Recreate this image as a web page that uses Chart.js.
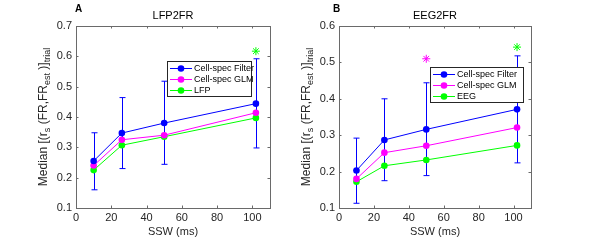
<!DOCTYPE html>
<html>
<head>
<meta charset="utf-8">
<script src="https://cdn.jsdelivr.net/npm/chart.js@4.4.0/dist/chart.umd.min.js"></script>
<style>
  body { margin: 0; background: #fff; }
  .panel { position: absolute; top: 0; width: 296px; height: 241px; }
</style>
</head>
<body>
<div class="panel" style="left:0"><canvas id="chartA"></canvas></div>
<div class="panel" style="left:296px"><canvas id="chartB"></canvas></div>
<script>
// SSW values (ms), shared by both panels
var ssw = [10, 26, 50, 102];
var xTicks = [0, 20, 40, 60, 80, 100];
var seriesNames = ["Cell-spec Filter", "Cell-spec GLM"];

// Panel A: LFP2FR
var filterA = [0.255, 0.347, 0.380, 0.444];
var filterLowA = [0.160, 0.230, 0.244, 0.298];
var filterHighA = [0.348, 0.464, 0.518, 0.592];
var glmA = [0.240, 0.325, 0.340, 0.414];
var lfpA = [0.225, 0.307, 0.335, 0.397];
var starsA = [{x: 102, y: 0.617, c: "#00ff00"}];

// Panel B: EEG2FR
var filterB = [0.203, 0.287, 0.316, 0.371];
var filterLowB = [0.113, 0.175, 0.189, 0.224];
var filterHighB = [0.292, 0.400, 0.444, 0.518];
var glmB = [0.180, 0.252, 0.271, 0.321];
var eegB = [0.172, 0.216, 0.232, 0.272];
var starsB = [{x: 50, y: 0.510, c: "#ff00ff"}, {x: 102, y: 0.542, c: "#00ff00"}];

var axisColor = "#262626";
var boxColor = "#6a6a6a";
var fontFam = "'Liberation Sans', Arial, sans-serif";

function pts(ys) {
	return ssw.map(function(x, i){ return {x: x, y: ys[i]}; });
}

function lineSet(label, ys, color) {
	return {
		label: label, data: pts(ys), showLine: true,
		borderColor: color, backgroundColor: color, borderWidth: 1,
		pointRadius: 3.3, pointHoverRadius: 3.3, pointBorderWidth: 0
	};
}

/** Draws error bars, the box with inward ticks, titles, y label and legend */
var decor = {
	id: "decor",
	beforeDatasetsDraw: function(chart, args, o) {
		var ctx = chart.ctx, xs = chart.scales.x, ys = chart.scales.y;
		ctx.save();
		ctx.strokeStyle = "#0000ff";
		ctx.lineWidth = 1;
		for (var i = 0; i < ssw.length; i++) {
			var px = Math.round(xs.getPixelForValue(ssw[i])) + 0.5;
			var y1 = ys.getPixelForValue(o.low[i]), y2 = ys.getPixelForValue(o.high[i]);
			ctx.beginPath();
			ctx.moveTo(px, y1); ctx.lineTo(px, y2);
			ctx.moveTo(px - 3, y1); ctx.lineTo(px + 3, y1);
			ctx.moveTo(px - 3, y2); ctx.lineTo(px + 3, y2);
			ctx.stroke();
		}
		ctx.restore();
	},
	afterDraw: function(chart, args, o) {
		var ctx = chart.ctx, a = chart.chartArea, xs = chart.scales.x, ys = chart.scales.y;
		ctx.save();
		// axes box
		ctx.strokeStyle = boxColor;
		ctx.lineWidth = 1;
		ctx.strokeRect(Math.round(a.left) + 0.5, Math.round(a.top) + 0.5,
			Math.round(a.right - a.left), Math.round(a.bottom - a.top));
		// inward ticks
		ctx.beginPath();
		xs.ticks.forEach(function(t){
			var px = Math.round(xs.getPixelForValue(t.value)) + 0.5;
			ctx.moveTo(px, a.bottom); ctx.lineTo(px, a.bottom - 2.5);
			ctx.moveTo(px, a.top); ctx.lineTo(px, a.top + 2.5);
		});
		ys.ticks.forEach(function(t){
			var py = Math.round(ys.getPixelForValue(t.value)) + 0.5;
			ctx.moveTo(a.left, py); ctx.lineTo(a.left + 2.5, py);
			ctx.moveTo(a.right, py); ctx.lineTo(a.right - 2.5, py);
		});
		ctx.stroke();

		// title and panel letter
		ctx.fillStyle = "#000";
		ctx.textAlign = "center";
		ctx.textBaseline = "middle";
		ctx.font = "11px " + fontFam;
		ctx.fillText(o.title, (a.left + a.right) / 2, 16);
		ctx.textAlign = "left";
		ctx.font = "bold 10px " + fontFam;
		ctx.fillText(o.letter, o.letterX, 9);

		// y label with subscripts
		ctx.save();
		ctx.translate(o.ylabelX, (a.top + a.bottom) / 2);
		ctx.rotate(-Math.PI / 2);
		ctx.fillStyle = axisColor;
		var parts = [["Median [(r", 0], ["s", 1], [" (FR,FR", 0], ["est", 1], [" )]", 0], ["trial", 1]];
		var big = "12px " + fontFam, small = "9px " + fontFam, w = 0;
		parts.forEach(function(p){ ctx.font = p[1] ? small : big; w += ctx.measureText(p[0]).width; });
		var cx = -w / 2;
		ctx.textAlign = "left";
		ctx.textBaseline = "alphabetic";
		parts.forEach(function(p){
			ctx.font = p[1] ? small : big;
			ctx.fillText(p[0], cx, p[1] ? 7 : 4);
			cx += ctx.measureText(p[0]).width;
		});
		ctx.restore();

		// legend
		var L = o.legend;
		ctx.fillStyle = "#fff";
		ctx.fillRect(L.x0, L.y0, L.x1 - L.x0, L.y1 - L.y0);
		ctx.strokeStyle = axisColor;
		ctx.strokeRect(L.x0 + 0.5, L.y0 + 0.5, L.x1 - L.x0, L.y1 - L.y0);
		ctx.font = "9px " + fontFam;
		ctx.textBaseline = "middle";
		chart.data.datasets.slice(0, 3).forEach(function(ds, i){
			var ry = L.y0 + 7 + i * 11;
			ctx.strokeStyle = ds.borderColor;
			ctx.beginPath();
			ctx.moveTo(L.x0 + 3, ry + 0.5); ctx.lineTo(L.x0 + 25, ry + 0.5);
			ctx.stroke();
			ctx.fillStyle = ds.borderColor;
			ctx.beginPath();
			ctx.arc(L.x0 + 14, ry + 0.5, 3.3, 0, Math.PI * 2);
			ctx.fill();
			ctx.fillStyle = "#000";
			ctx.fillText(ds.label, L.x0 + 27, ry + 1);
		});
		ctx.restore();
	}
};

function makeChart(id, sets, stars, yMax, axisW, padRight, opts) {
	var data = sets.slice();
	data.push({
		label: "stars", data: stars.map(function(s){ return {x: s.x, y: s.y}; }),
		showLine: false, pointStyle: "star", pointRadius: 4,
		borderColor: stars.map(function(s){ return s.c; }), borderWidth: 1,
		backgroundColor: "transparent"
	});
	return new Chart(document.getElementById(id), {
		type: "scatter",
		data: {datasets: data},
		options: {
			responsive: true, maintainAspectRatio: false, animation: false,
			layout: {padding: {left: 0, right: padRight, top: 26, bottom: 0}},
			plugins: {legend: {display: false}, tooltip: {enabled: false}, decor: opts},
			scales: {
				x: {
					type: "linear", min: 0, max: 110,
					grid: {display: false, drawTicks: false}, border: {display: false},
					ticks: {color: axisColor, font: {size: 11, family: fontFam}, padding: 3, maxRotation: 0, autoSkip: false},
					afterBuildTicks: function(s){ s.ticks = xTicks.map(function(v){ return {value: v}; }); },
					title: {display: true, text: "SSW (ms)", color: axisColor, font: {size: 11, family: fontFam}, padding: {top: 0, bottom: 2}},
					afterFit: function(s){ s.height = 33; }
				},
				y: {
					min: 0.1, max: yMax,
					grid: {display: false, drawTicks: false}, border: {display: false},
					ticks: {stepSize: 0.1, color: axisColor, font: {size: 11, family: fontFam}, padding: 4,
						callback: function(v){ return v.toFixed(1); }},
					afterFit: function(s){ s.width = axisW; }
				}
			}
		},
		plugins: [decor]
	});
}

makeChart("chartA", [
	lineSet(seriesNames[0], filterA, "#0000ff"),
	lineSet(seriesNames[1], glmA, "#ff00ff"),
	lineSet("LFP", lfpA, "#00ff00")
], starsA, 0.7, 76, 26, {
	title: "LFP2FR", letter: "A", letterX: 75, ylabelX: 43,
	low: filterLowA, high: filterHighA,
	legend: {x0: 167, y0: 61, x1: 251, y1: 96}
});

makeChart("chartB", [
	lineSet(seriesNames[0], filterB, "#0000ff"),
	lineSet(seriesNames[1], glmB, "#ff00ff"),
	lineSet("EEG", eegB, "#00ff00")
], starsB, 0.6, 43, 61, {
	title: "EEG2FR", letter: "B", letterX: 37, ylabelX: 10,
	low: filterLowB, high: filterHighB,
	legend: {x0: 134, y0: 67, x1: 227, y1: 102}
});
</script>
</body>
</html>
